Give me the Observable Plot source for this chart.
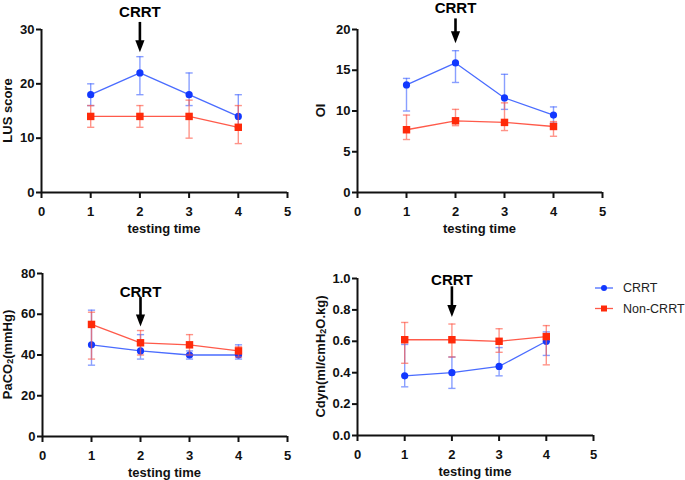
<!DOCTYPE html>
<html><head><meta charset="utf-8">
<script src="https://cdn.jsdelivr.net/npm/d3@7"></script>
<script src="https://cdn.jsdelivr.net/npm/@observablehq/plot@0.6"></script>
<style>
body{margin:0;background:#fff;}
#wrap{position:relative;width:685px;height:480px;background:#fff;overflow:hidden;}
#wrap svg{position:absolute;}
</style></head>
<body><div id="wrap"></div>
<script>
// ---- data ----
const times = [1, 2, 3, 4];
const seriesNames = ["CRRT", "Non-CRRT"];
const xTicks = [0, 1, 2, 3, 4, 5];

// LUS score
const lusCrrt = [18, 22, 18, 14];
const lusCrrtLo = [16, 18, 16, 12];
const lusCrrtHi = [20, 25, 22, 18];
const lusNon = [14, 14, 14, 12];
const lusNonLo = [12, 12, 10, 9];
const lusNonHi = [16, 16, 17, 16];
const lusTicks = [0, 10, 20, 30];

// OI
const oiCrrt = [13.2, 15.9, 11.6, 9.5];
const oiCrrtLo = [10.0, 13.5, 10.2, 8.5];
const oiCrrtHi = [14.0, 17.4, 14.5, 10.5];
const oiNon = [7.7, 8.8, 8.6, 8.1];
const oiNonLo = [6.5, 8.2, 7.6, 6.9];
const oiNonHi = [9.5, 10.2, 11.0, 8.7];
const oiTicks = [0, 5, 10, 15, 20];

// PaCO2
const pacoCrrt = [45, 42, 40, 40];
const pacoCrrtLo = [35, 38, 38, 38];
const pacoCrrtHi = [62, 50, 42, 45];
const pacoNon = [55, 46, 45, 42];
const pacoNonLo = [38, 40, 40, 39];
const pacoNonHi = [61, 52, 50, 44];
const pacoTicks = [0, 20, 40, 60, 80];

// Cdyn
const cdynCrrt = [0.38, 0.40, 0.44, 0.60];
const cdynCrrtLo = [0.31, 0.30, 0.38, 0.51];
const cdynCrrtHi = [0.58, 0.50, 0.56, 0.66];
const cdynNon = [0.61, 0.61, 0.60, 0.63];
const cdynNonLo = [0.46, 0.50, 0.53, 0.45];
const cdynNonHi = [0.72, 0.71, 0.68, 0.70];
const cdynTicks = [0, 0.2, 0.4, 0.6, 0.8, 1.0];

// CRRT annotation (x position, label y, arrow top, arrow tip) in data units
const annotX = 2;
const annotLabelY = [33.2, 22.6, 70.8, 0.99];
const annotTop = [31.3, 21.3, 68.2, 0.947];
const annotTip = [25.8, 18.3, 54.0, 0.755];

// ---- styles ----
const blue = "#1238ff", blueLine = "#4a6cff";
const red = "#ff2a0a", redLine = "#ff5a4a";
const FONT = "'Liberation Sans', Arial, sans-serif";

function rows(m, lo, hi, s) { return times.map((t, i) => ({t, v: m[i], lo: lo[i], hi: hi[i], s})); }

const capSymbol = {draw(ctx) { ctx.moveTo(-3.6, 0); ctx.lineTo(3.6, 0); }};
const headSymbol = {draw(ctx) { ctx.moveTo(0, 0); ctx.lineTo(-4.6, -12); ctx.lineTo(4.6, -12); ctx.closePath(); }};

const wrap = document.getElementById("wrap");

function panel(o) {
  const crrt = rows(o.crrt[0], o.crrt[1], o.crrt[2], seriesNames[0]);
  const non = rows(o.non[0], o.non[1], o.non[2], seriesNames[1]);
  const series = (d, line, mark, sym, r) => [
    Plot.ruleX(d, {x: "t", y1: "lo", y2: "hi", stroke: line, strokeOpacity: 0.65, strokeWidth: 1.4}),
    Plot.dot(d, {x: "t", y: "lo", symbol: capSymbol, stroke: line, strokeOpacity: 0.65, strokeWidth: 1.4, fill: "none"}),
    Plot.dot(d, {x: "t", y: "hi", symbol: capSymbol, stroke: line, strokeOpacity: 0.65, strokeWidth: 1.4, fill: "none"}),
    Plot.line(d, {x: "t", y: "v", stroke: line, strokeWidth: 1.3}),
    Plot.dot(d, {x: "t", y: "v", symbol: sym, r, fill: mark, stroke: "none"})
  ];
  const a = [{x: annotX, top: annotTop[o.i], tip: annotTip[o.i], ly: annotLabelY[o.i]}];
  const svg = Plot.plot({
    width: o.w, height: o.h,
    marginLeft: o.ml, marginRight: o.mr, marginTop: o.mt, marginBottom: o.mb,
    style: {fontFamily: FONT, fontSize: "13px", fontWeight: "bold", color: "#111", background: "transparent", overflow: "visible"},
    x: {domain: [0, 5], label: null},
    y: {domain: o.yDomain, label: null},
    marks: [
      Plot.axisX({ticks: xTicks, tickSize: 6, tickPadding: 8, strokeWidth: 2, label: null, tickFormat: d3.format("d")}),
      Plot.axisY({ticks: o.yTicks, tickSize: 5, tickPadding: 2, strokeWidth: 2, label: null, tickFormat: o.fmt}),
      Plot.ruleY([o.yDomain[0]], {strokeWidth: 2, stroke: "#111"}),
      Plot.ruleX([0], {strokeWidth: 2, stroke: "#111"}),
      ...series(crrt, blueLine, blue, "circle", 3.6),
      ...series(non, redLine, red, "square", 4.2),
      Plot.ruleX(a, {x: "x", y1: "top", y2: "tip", strokeWidth: 2.6, stroke: "#000", insetBottom: 6}),
      Plot.dot(a, {x: "x", y: "tip", symbol: headSymbol, fill: "#000", stroke: "none"}),
      Plot.text(a, {x: "x", y: "ly", text: () => "CRRT", fontSize: 15, fontWeight: "bold", fill: "#000"})
    ]
  });
  svg.style.left = o.left + "px";
  svg.style.top = o.top + "px";
  const s = d3.select(svg);
  const fw = o.w - o.ml - o.mr, fh = o.h - o.mt - o.mb;
  s.append("text").attr("x", o.ml + fw / 2).attr("y", o.mt + fh + 36)
    .attr("text-anchor", "middle").attr("dominant-baseline", "central")
    .attr("font-size", 13).attr("font-weight", "bold").attr("fill", "#111").text("testing time");
  const yl = s.append("text").attr("transform", `translate(${o.lx},${o.mt + fh / 2}) rotate(-90)`)
    .attr("text-anchor", "middle").attr("dominant-baseline", "central")
    .attr("font-size", 13).attr("font-weight", "bold").attr("fill", "#111");
  o.ylabel.forEach(([txt, sub]) => {
    const t = yl.append("tspan").text(txt);
    if (sub) t.attr("baseline-shift", "-30%").attr("font-size", 9);
  });
  wrap.appendChild(svg);
}

panel({i: 0, left: 0, top: 0, w: 300, h: 240, ml: 41, mr: 13, mt: 29, mb: 48, lx: 7,
  yDomain: [0, 30], yTicks: lusTicks, fmt: d3.format("d"),
  crrt: [lusCrrt, lusCrrtLo, lusCrrtHi], non: [lusNon, lusNonLo, lusNonHi],
  ylabel: [["LUS score"]]});
panel({i: 1, left: 300, top: 0, w: 315, h: 240, ml: 57, mr: 13, mt: 29, mb: 48, lx: 20,
  yDomain: [0, 20], yTicks: oiTicks, fmt: d3.format("d"),
  crrt: [oiCrrt, oiCrrtLo, oiCrrtHi], non: [oiNon, oiNonLo, oiNonHi],
  ylabel: [["OI"]]});
panel({i: 2, left: 0, top: 240, w: 300, h: 240, ml: 42, mr: 13, mt: 33, mb: 44, lx: 7,
  yDomain: [0, 80], yTicks: pacoTicks, fmt: d3.format("d"),
  crrt: [pacoCrrt, pacoCrrtLo, pacoCrrtHi], non: [pacoNon, pacoNonLo, pacoNonHi],
  ylabel: [["PaCO"], ["2", true], ["(mmHg)"]]});
panel({i: 3, left: 300, top: 240, w: 300, h: 240, ml: 57, mr: 7, mt: 38, mb: 45, lx: 20,
  yDomain: [0, 1], yTicks: cdynTicks, fmt: d3.format(".1f"),
  crrt: [cdynCrrt, cdynCrrtLo, cdynCrrtHi], non: [cdynNon, cdynNonLo, cdynNonHi],
  ylabel: [["Cdyn(ml/cmH"], ["2", true], ["O.kg)"]]});

// legend
const lg = d3.select(wrap).append("svg").attr("width", 95).attr("height", 40)
  .style("left", "590px").style("top", "278px")
  .style("font-family", FONT);
const legendItems = [{name: seriesNames[0], line: blueLine, mark: blue, sym: "circle"},
                     {name: seriesNames[1], line: redLine, mark: red, sym: "square"}];
legendItems.forEach((d, i) => {
  const y = 10 + i * 20.5;
  const g = lg.append("g");
  g.append("line").attr("x1", 5).attr("x2", 23).attr("y1", y).attr("y2", y).attr("stroke", d.line).attr("stroke-width", 1.3);
  if (d.sym === "circle") g.append("circle").attr("cx", 14).attr("cy", y).attr("r", 3).attr("fill", d.mark);
  else g.append("rect").attr("x", 11).attr("y", y - 3).attr("width", 6).attr("height", 6).attr("fill", d.mark);
  g.append("text").attr("x", 33).attr("y", y).attr("dominant-baseline", "central")
    .attr("font-size", 12.5).attr("fill", "#222").text(d.name);
});
</script></body></html>
